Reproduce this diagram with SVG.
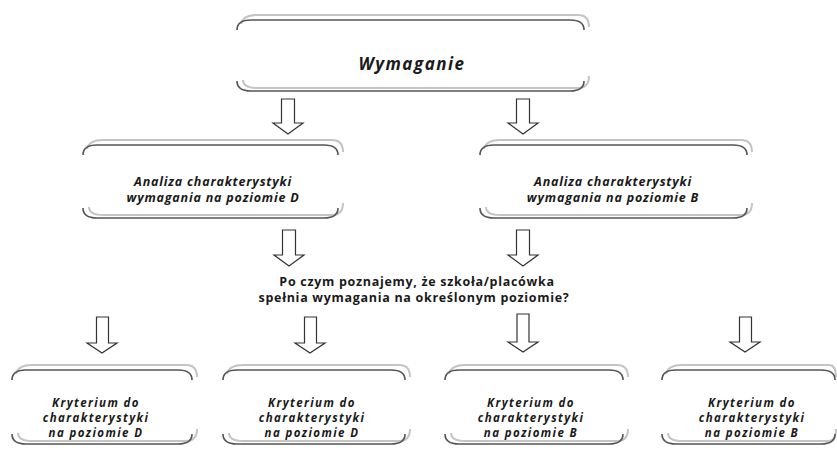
<svg xmlns="http://www.w3.org/2000/svg" width="837" height="450" viewBox="0 0 837 450">
<style>
.dk{fill:none;stroke:#555;stroke-width:1.6}
.lt{fill:none;stroke:#c4c4c4;stroke-width:2}
.t{font-family:"Open Sans","DejaVu Sans",sans-serif;font-weight:bold;font-style:italic;fill:#1a1a1a;text-anchor:middle;font-size:12.5px;letter-spacing:0.8px}
.k{font-size:11.5px;letter-spacing:1.4px}
.big{font-size:17px;letter-spacing:1.5px}
.q{font-family:"Open Sans","DejaVu Sans",sans-serif;font-weight:bold;fill:#1a1a1a;text-anchor:middle;font-size:12.5px;letter-spacing:0.7px}
.ar{fill:#fff;stroke:#333;stroke-width:1.2}
</style>
<rect width="837" height="450" fill="#fff"/>
<g id="connectors">
<polygon class="ar" points="281.5,99 294.5,99 294.5,123 303,123 288,134 273,123 281.5,123"/>
<polygon class="ar" points="516.5,99 529.5,99 529.5,123 538,123 523,134 508,123 516.5,123"/>
<polygon class="ar" points="282.5,230 295.5,230 295.5,255 304,255 289,266 274,255 282.5,255"/>
<polygon class="ar" points="516.5,230 529.5,230 529.5,255 538,255 523,266 508,255 516.5,255"/>
<polygon class="ar" points="96.5,317 108.5,317 108.5,343 117,343 102,353 87,343 96.5,343"/>
<polygon class="ar" points="304.5,317 316.5,317 316.5,343 325,343 310,353 295,343 304.5,343"/>
<polygon class="ar" points="517,314 529,314 529,342 538,342 523,352 508,342 517,342"/>
<polygon class="ar" points="739.5,317 751.5,317 751.5,342 760,342 745,352 730,342 739.5,342"/>
</g>
<g id="node-wymaganie">
<path class="lt" d="M241,24 Q243,15 257,15 H578 Q589,15 589,27"/>
<path class="dk" d="M237,30 Q237,20 251,20 H570 Q584,20 584,30"/>
<path class="lt" d="M243,80 Q243,88 257,88 H578 Q589,88 589,76"/>
<path class="dk" d="M237,81 Q237,91 251,91 H570 Q584,91 584,81"/>
<text class="t big" x="412" y="70">Wymaganie</text>
</g>
<g id="node-analiza-d">
<path class="lt" d="M87,149 Q89,140 103,140 H332 Q343,140 343,152"/>
<path class="dk" d="M83,155 Q83,145 97,145 H324 Q338,145 338,155"/>
<path class="lt" d="M89,207 Q89,215 103,215 H332 Q343,215 343,203"/>
<path class="dk" d="M83,208 Q83,218 97,218 H324 Q338,218 338,208"/>
<text class="t" x="213" y="186">Analiza charakterystyki</text>
<text class="t" x="213" y="202">wymagania na poziomie D</text>
</g>
<g id="node-analiza-b">
<path class="lt" d="M484,149 Q486,140 500,140 H741 Q752,140 752,152"/>
<path class="dk" d="M480,155 Q480,145 494,145 H733 Q747,145 747,155"/>
<path class="lt" d="M486,207 Q486,215 500,215 H741 Q752,215 752,203"/>
<path class="dk" d="M480,208 Q480,218 494,218 H733 Q747,218 747,208"/>
<text class="t" x="613" y="186">Analiza charakterystyki</text>
<text class="t" x="613" y="202">wymagania na poziomie B</text>
</g>
<g id="node-pytanie">
<text class="q" x="417" y="286">Po czym poznajemy, że szkoła/placówka</text>
<text class="q" x="414" y="302">spełnia wymagania na określonym poziomie?</text>
</g>
<g id="node-k1">
<path class="lt" d="M16,374 Q18,365 32,365 H186 Q197,365 197,377"/>
<path class="dk" d="M12,380 Q12,370 26,370 H178 Q192,370 192,380"/>
<path class="lt" d="M18,433 Q18,441 32,441 H186 Q197,441 197,429"/>
<path class="dk" d="M12,434 Q12,444 26,444 H178 Q192,444 192,434"/>
<text class="t k" x="96" y="407">Kryterium do</text>
<text class="t k" x="96" y="422">charakterystyki</text>
<text class="t k" x="96" y="437">na poziomie D</text>
</g>
<g id="node-k2">
<path class="lt" d="M227,374 Q229,365 243,365 H399 Q410,365 410,377"/>
<path class="dk" d="M223,380 Q223,370 237,370 H391 Q405,370 405,380"/>
<path class="lt" d="M229,433 Q229,441 243,441 H399 Q410,441 410,429"/>
<path class="dk" d="M223,434 Q223,444 237,444 H391 Q405,444 405,434"/>
<text class="t k" x="312" y="407">Kryterium do</text>
<text class="t k" x="312" y="422">charakterystyki</text>
<text class="t k" x="312" y="437">na poziomie D</text>
</g>
<g id="node-k3">
<path class="lt" d="M449,374 Q451,365 465,365 H617 Q628,365 628,377"/>
<path class="dk" d="M445,380 Q445,370 459,370 H609 Q623,370 623,380"/>
<path class="lt" d="M451,433 Q451,441 465,441 H617 Q628,441 628,429"/>
<path class="dk" d="M445,434 Q445,444 459,444 H609 Q623,444 623,434"/>
<text class="t k" x="531" y="407">Kryterium do</text>
<text class="t k" x="531" y="422">charakterystyki</text>
<text class="t k" x="531" y="437">na poziomie B</text>
</g>
<g id="node-k4">
<path class="lt" d="M666,374 Q668,365 682,365 H829 Q836,365 836,377"/>
<path class="dk" d="M662,380 Q662,370 676,370 H821 Q835,370 835,380"/>
<path class="lt" d="M668,433 Q668,441 682,441 H829 Q836,441 836,429"/>
<path class="dk" d="M662,434 Q662,444 676,444 H821 Q835,444 835,434"/>
<text class="t k" x="752" y="407">Kryterium do</text>
<text class="t k" x="752" y="422">charakterystyki</text>
<text class="t k" x="752" y="437">na poziomie B</text>
</g>
</svg>
